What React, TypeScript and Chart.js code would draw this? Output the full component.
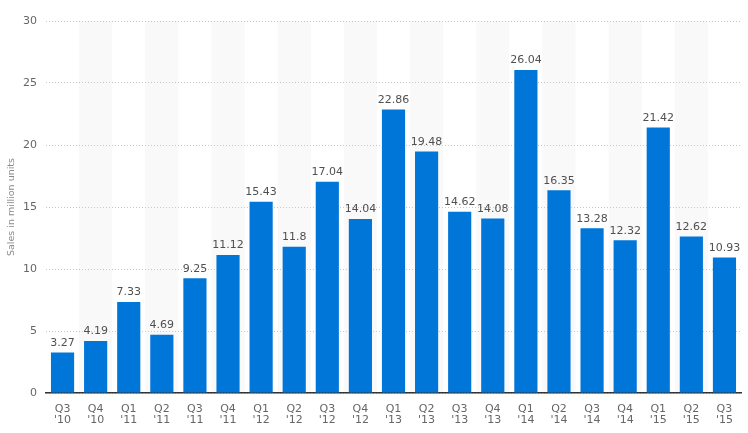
import React, { useEffect, useRef } from "react";
import { Chart, registerables } from "chart.js";

Chart.register(...registerables);

const quarters = ["Q3", "Q4", "Q1", "Q2", "Q3", "Q4", "Q1", "Q2", "Q3", "Q4", "Q1", "Q2", "Q3", "Q4", "Q1", "Q2", "Q3", "Q4", "Q1", "Q2", "Q3"];
const years = ["'10", "'10", "'11", "'11", "'11", "'11", "'12", "'12", "'12", "'12", "'13", "'13", "'13", "'13", "'14", "'14", "'14", "'14", "'15", "'15", "'15"];
const sales = [3.27, 4.19, 7.33, 4.69, 9.25, 11.12, 15.43, 11.8, 17.04, 14.04, 22.86, 19.48, 14.62, 14.08, 26.04, 16.35, 13.28, 12.32, 21.42, 12.62, 10.93];
const yTicks = [0, 5, 10, 15, 20, 25, 30];

const FONT = "'DejaVu Sans', Verdana, sans-serif";

const bandsPlugin = {
  id: "bands",
  beforeDraw(chart: any) {
    const { ctx, chartArea, scales } = chart;
    const x = scales.x;
    const n = sales.length;
    const step = (chartArea.right - chartArea.left) / n;
    ctx.save();
    ctx.fillStyle = "#f9f9f9";
    for (let i = 1; i < n; i += 2) {
      const c = x.getPixelForValue(i);
      ctx.fillRect(c - step / 2, chartArea.top, step, chartArea.bottom - chartArea.top);
    }
    ctx.restore();
  },
};

const labelsPlugin = {
  id: "valueLabels",
  afterDatasetsDraw(chart: any) {
    const { ctx } = chart;
    const meta = chart.getDatasetMeta(0);
    ctx.save();
    ctx.font = `11px ${FONT}`;
    ctx.fillStyle = "#505050";
    ctx.textAlign = "center";
    ctx.textBaseline = "bottom";
    meta.data.forEach((el: any, i: number) => {
      ctx.fillText(String(sales[i]), el.x, el.y - 4);
    });
    ctx.restore();
  },
};

export default function App() {
  const ref = useRef<HTMLCanvasElement>(null);
  useEffect(() => {
    if (!ref.current) return;
    const chart = new Chart(ref.current, {
      type: "bar",
      data: {
        labels: quarters.map((q, i) => [q, years[i]]),
        datasets: [
          {
            data: sales,
            backgroundColor: "#0076d9",
            barPercentage: 0.7,
            categoryPercentage: 1,
          },
        ],
      },
      options: {
        animation: false,
        responsive: false,
        maintainAspectRatio: false,
        layout: { padding: { top: 21, right: 7, bottom: 0, left: 0 } },
        plugins: {
          legend: { display: false },
          tooltip: { enabled: false },
        },
        scales: {
          x: {
            grid: { display: false, drawTicks: false },
            border: { display: true, color: "#333333", width: 1.5 },
            ticks: {
              color: "#666666",
              font: { family: FONT, size: 11, lineHeight: 1.0 },
              padding: 11,
              maxRotation: 0,
              autoSkip: false,
            },
            afterFit(scale: any) {
              scale.height = 40;
            },
          },
          y: {
            min: 0,
            max: 30,
            afterBuildTicks(scale: any) {
              scale.ticks = yTicks.map((v) => ({ value: v }));
            },
            grid: {
              color: "#c8c8c8",
              drawTicks: false,
            },
            border: { display: false, dash: [1, 2] },
            ticks: {
              color: "#666666",
              font: { family: FONT, size: 11 },
              padding: 9,
            },
            title: {
              display: true,
              text: "Sales in million units",
              color: "#8a8a8a",
              font: { family: FONT, size: 9.5 },
              padding: { top: 6, bottom: 0 },
            },
            afterFit(scale: any) {
              scale.width = 46;
            },
          },
        },
      },
      plugins: [bandsPlugin, labelsPlugin],
    });
    return () => chart.destroy();
  }, []);
  return (
    <div style={{ position: "fixed", left: 0, top: 0, width: 748, height: 433, background: "#fff" }}>
      <canvas ref={ref} width={748} height={433} style={{ width: 748, height: 433 }} />
    </div>
  );
}
